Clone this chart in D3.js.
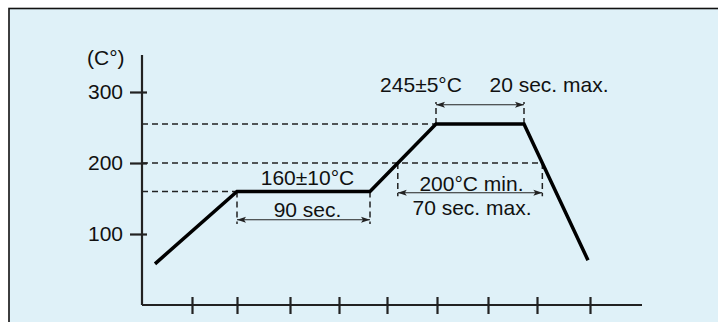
<!DOCTYPE html>
<html>
<head>
<meta charset="utf-8">
<script src="https://cdn.jsdelivr.net/npm/d3@7/dist/d3.min.js"></script>
<style>
  body { margin: 0; background: #fff; }
  svg { display: block; font-family: 'Liberation Sans', Arial, sans-serif; }
</style>
</head>
<body>
<div class="canvas"></div>
<script>
// Reflow profile (time in arbitrary units, temperature in °C)
const profileTime = [2.6, 19, 45.6, 58.8, 76.4, 89.2];
const profileTemp = [58, 160, 160, 255, 255, 63];

// Axis ticks
const yTicks = [100, 200, 300];
const xTicks = [10, 19, 29.6, 39.4, 49, 59, 69.2, 79, 89.6];

const yUnitLabel = '(C°)';
const preheatLabels = ['160±10°C', '90 sec.'];
const peakLabels = ['245±5°C', '20 sec. max.'];
const reflowLabels = ['200°C min.', '70 sec. max.'];

const outerWidth = 718;
const outerHeight = 322;

const svg = d3.select('.canvas')
    .append('svg')
    .attr('width', outerWidth)
    .attr('height', outerHeight);

// Panel background (runs off the right and bottom edges)
svg.append('rect')
    .attr('x', 9)
    .attr('y', 8.5)
    .attr('width', 800)
    .attr('height', 400)
    .attr('fill', '#dff1f8')
    .attr('stroke', '#111')
    .attr('stroke-width', 1.6);

const x = d3.scaleLinear().domain([0, 100]).range([142, 642]);
const y = d3.scaleLinear().domain([0, 300]).range([305, 92]);

const data = profileTime.map((t, i) => ({time: t, temp: profileTemp[i]}));

// time where a profile segment crosses a temperature level
const crossing = (i, level) => {
    const a = data[i], b = data[i + 1];
    return a.time + (b.time - a.time) * (level - a.temp) / (b.temp - a.temp);
};

const rise200 = crossing(2, 200);
const fall200 = crossing(4, 200);

// Axes
const yAxis = d3.axisLeft(y)
    .tickValues(yTicks)
    .tickSize(12)
    .tickPadding(7);

const xAxis = d3.axisBottom(x)
    .tickValues(xTicks)
    .tickSize(9)
    .tickFormat('');

const yAxisGroup = svg.append('g')
    .attr('transform', `translate(${x(0)}, 0)`)
    .call(yAxis);

const xAxisGroup = svg.append('g')
    .attr('transform', `translate(0, ${y(0)})`)
    .call(xAxis);

// axis lines without end caps, y axis runs a bit above 300
yAxisGroup.select('.domain').attr('d', `M0,55V${y(0)}`);
xAxisGroup.select('.domain').attr('d', `M${x(0)},0H${x(100)}`);

// ticks cross the axis line
yAxisGroup.selectAll('.tick line').attr('x1', 5);
xAxisGroup.selectAll('.tick line').attr('y1', -8);

[yAxisGroup, xAxisGroup].forEach(g => {
    g.selectAll('.domain, .tick line')
        .attr('stroke', '#222')
        .attr('stroke-width', 2.2);
    g.selectAll('text')
        .attr('fill', '#111')
        .style('font-size', '21px')
        .style('font-family', "'Liberation Sans', Arial, sans-serif");
});

svg.append('text')
    .attr('x', 87)
    .attr('y', 65)
    .attr('fill', '#111')
    .style('font-size', '21px')
    .text(yUnitLabel);

// Dashed guides
const guides = svg.append('g')
    .attr('stroke', '#222')
    .attr('stroke-width', 1.5)
    .attr('stroke-dasharray', '6,4')
    .attr('fill', 'none');

const dashed = (x1, y1, x2, y2) => guides.append('line')
    .attr('x1', x1).attr('y1', y1)
    .attr('x2', x2).attr('y2', y2);

// horizontal levels
dashed(x(0), y(255), x(data[3].time), y(255));
dashed(x(0), y(200), x(fall200), y(200));
dashed(x(0), y(160), x(data[1].time), y(160));

// vertical end bars
dashed(x(data[1].time), y(160), x(data[1].time), y(114));
dashed(x(data[2].time), y(160), x(data[2].time), y(114));
dashed(x(data[3].time), y(255), x(data[3].time), y(286));
dashed(x(data[4].time), y(255), x(data[4].time), y(286));
dashed(x(rise200), y(200), x(rise200), y(153));
dashed(x(fall200), y(200), x(fall200), y(153));

// Double-headed arrows
const arrows = svg.append('g');

const arrow = (t1, t2, temp) => {
    const x1 = x(t1), x2 = x(t2), yy = y(temp);
    arrows.append('line')
        .attr('x1', x1).attr('y1', yy)
        .attr('x2', x2).attr('y2', yy)
        .attr('stroke', '#222')
        .attr('stroke-width', 1.1);
    arrows.append('path')
        .attr('d', `M${x1},${yy}l9,-3l-2,3l2,3z`)
        .attr('fill', '#222');
    arrows.append('path')
        .attr('d', `M${x2},${yy}l-9,-3l2,3l-2,3z`)
        .attr('fill', '#222');
};

arrow(data[1].time, data[2].time, 120);
arrow(data[3].time, data[4].time, 282);
arrow(rise200, fall200, 158);

// Profile line
const line = d3.line()
    .x(d => x(d.time))
    .y(d => y(d.temp));

svg.append('path')
    .datum(data)
    .attr('fill', 'none')
    .attr('stroke', '#000')
    .attr('stroke-width', 3.5)
    .attr('d', line);

// Annotation labels
const label = (text, cx, baseline) => svg.append('text')
    .attr('x', cx)
    .attr('y', baseline)
    .attr('text-anchor', 'middle')
    .attr('fill', '#111')
    .style('font-size', '21px')
    .text(text);

label(preheatLabels[0], 307.5, 185);
label(preheatLabels[1], 307.5, 217);
label(peakLabels[0], 421, 92);
label(peakLabels[1], 549, 92);
label(reflowLabels[0], 471.5, 191);
label(reflowLabels[1], 472, 215);
</script>
</body>
</html>
